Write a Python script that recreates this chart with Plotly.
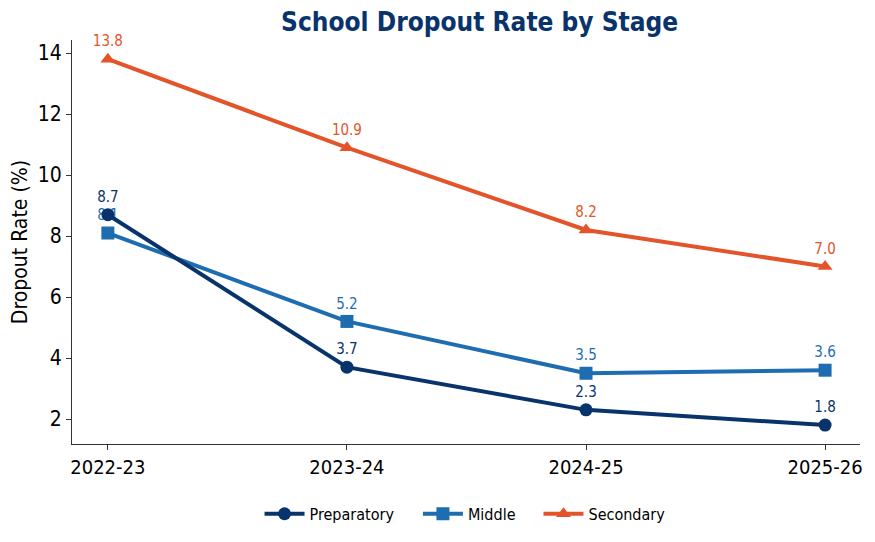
import plotly.graph_objects as go

years = ["2022-23", "2023-24", "2024-25", "2025-26"]
preparatory = [8.7, 3.7, 2.3, 1.8]
middle = [8.1, 5.2, 3.5, 3.6]
secondary = [13.8, 10.9, 8.2, 7.0]

# name, values, colour, marker, legend slot, legend x
series = [
    ("Secondary", secondary, "#e4542a", "triangle-up", "legend3", 0.592),
    ("Middle", middle, "#1f6db1", "square", "legend2", 0.439),
    ("Preparatory", preparatory, "#08336b", "circle", "legend", 0.238),
]

fig = go.Figure()
legends = {}
for name, vals, color, symbol, leg, lx in series:
    fig.add_trace(go.Scatter(
        x=list(range(len(years))), y=vals, name=name,
        mode="lines+markers+text",
        line=dict(color=color, width=4),
        marker=dict(symbol=symbol, size=13, color=color),
        text=[f"{v:.1f}" for v in vals],
        textposition="top center",
        textfont=dict(color=color, size=15, family="DejaVu Sans Condensed", weight=400),
        legend=leg,
        cliponaxis=False,
    ))
    legends[leg] = dict(orientation="h", x=lx, xanchor="left", y=-0.128, yanchor="top",
                        font=dict(size=16, family="DejaVu Sans Condensed", weight=400),
                        itemwidth=40, bgcolor="rgba(0,0,0,0)")

# page body has an 8px margin, so the figure is shifted by 8px
fig.update_layout(
    width=867, height=534,
    paper_bgcolor="white", plot_bgcolor="white",
    font=dict(family="DejaVu Sans", color="black"),
    title=dict(text="<b>School Dropout Rate by Stage</b>", x=0.544, xanchor="center",
               y=0.974, yanchor="middle",
               font=dict(size=26, color="#08336b", family="DejaVu Sans Condensed")),
    margin=dict(l=64, r=15, t=32, b=97),
    showlegend=True,
    **legends,
)
fig.update_xaxes(
    tickmode="array", tickvals=list(range(len(years))), ticktext=years,
    range=[-0.15, 3.146], showgrid=False, zeroline=False, automargin=False,
    showline=True, linecolor="#333333", linewidth=1.2,
    ticks="outside", ticklen=5, tickcolor="#333333",
    tickfont=dict(size=20, family="DejaVu Sans Condensed", weight=400),
)
fig.update_yaxes(
    range=[1.18, 14.43], tickvals=[2, 4, 6, 8, 10, 12, 14],
    showgrid=False, zeroline=False, automargin=False,
    showline=True, linecolor="#333333", linewidth=1.2,
    ticks="outside", ticklen=5, tickcolor="#333333",
    tickfont=dict(size=21, family="DejaVu Sans Condensed", weight=400),
    title=dict(text="Dropout Rate (%)", font=dict(size=21, family="DejaVu Sans Condensed", weight=400), standoff=8),
)

fig.write_html("out.html")
